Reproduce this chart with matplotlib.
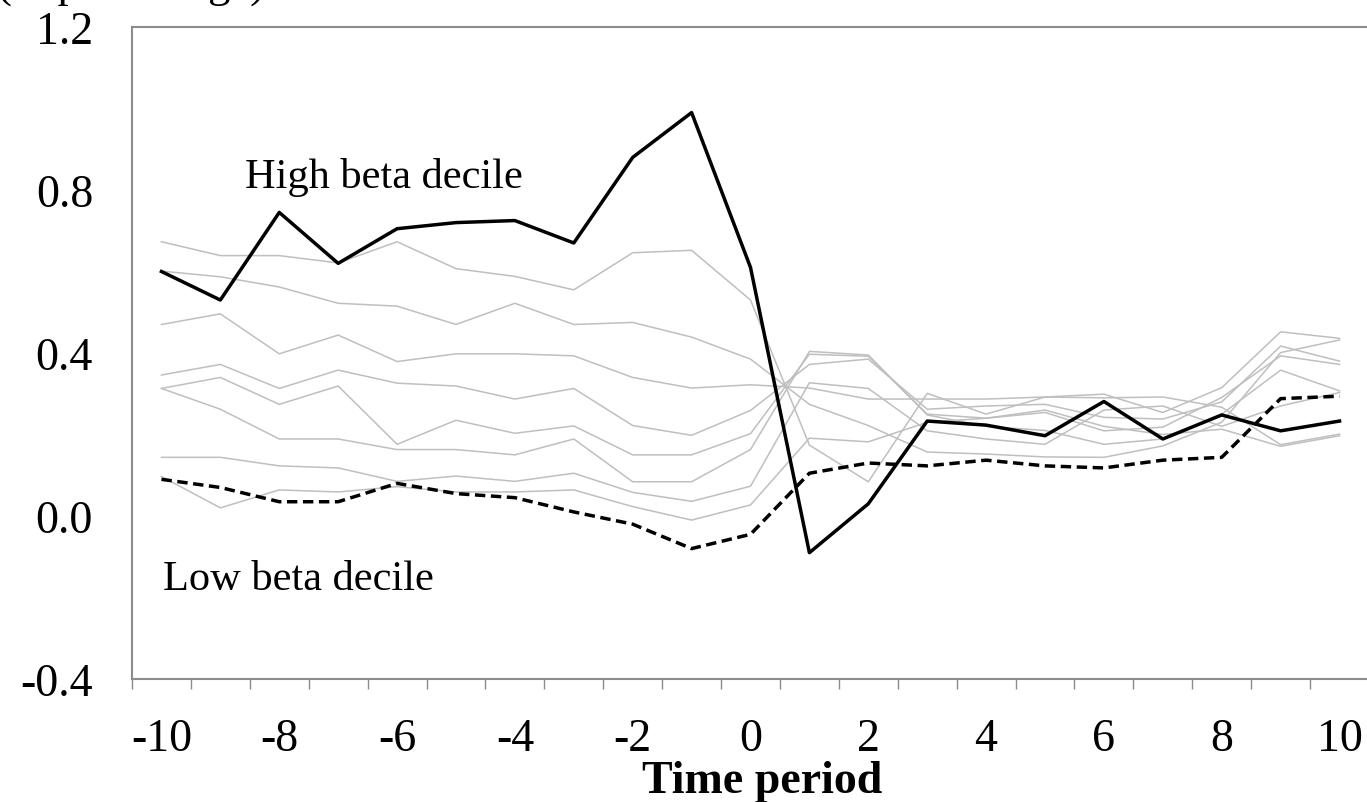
import matplotlib
matplotlib.use("Agg")
import matplotlib.pyplot as plt
from matplotlib.ticker import FixedLocator, NullFormatter

plt.rcParams['font.family'] = ['Liberation Serif', 'DejaVu Serif']

# event time
periods = list(range(-10, 11))

# top and bottom beta deciles (percent)
high_beta = [0.60, 0.53, 0.745, 0.62, 0.705, 0.72, 0.725, 0.67, 0.88, 0.99, 0.61,
             -0.09, 0.03, 0.233, 0.223, 0.197, 0.281, 0.189, 0.248, 0.209, 0.233]
low_beta = [0.09, 0.07, 0.035, 0.035, 0.08, 0.055, 0.045, 0.01, -0.02, -0.08, -0.045,
            0.105, 0.13, 0.123, 0.137, 0.123, 0.118, 0.137, 0.144, 0.288, 0.294]

# deciles 2-9 (grey)
dec_a = [0.673, 0.639, 0.639, 0.621, 0.673, 0.607, 0.588, 0.555, 0.646, 0.652, 0.530,
         0.174, 0.084, 0.301, 0.250, 0.292, 0.299, 0.254, 0.315, 0.452, 0.436]
dec_b = [0.601, 0.587, 0.562, 0.522, 0.515, 0.470, 0.522, 0.470, 0.475, 0.439, 0.385,
         0.274, 0.222, 0.157, 0.152, 0.145, 0.144, 0.172, 0.230, 0.401, 0.432]
dec_c = [0.470, 0.496, 0.398, 0.444, 0.379, 0.398, 0.398, 0.393, 0.340, 0.314, 0.322,
         0.314, 0.287, 0.287, 0.287, 0.292, 0.290, 0.292, 0.267, 0.175, 0.201]
dec_d = [0.346, 0.372, 0.313, 0.358, 0.326, 0.319, 0.287, 0.313, 0.222, 0.198, 0.259,
         0.372, 0.385, 0.262, 0.270, 0.274, 0.242, 0.238, 0.280, 0.417, 0.380]
dec_e = [0.313, 0.340, 0.274, 0.319, 0.176, 0.235, 0.203, 0.221, 0.150, 0.150, 0.202,
         0.397, 0.392, 0.250, 0.240, 0.254, 0.209, 0.218, 0.291, 0.393, 0.372]
dec_f = [0.313, 0.262, 0.189, 0.189, 0.163, 0.163, 0.150, 0.189, 0.084, 0.084, 0.163,
         0.404, 0.395, 0.248, 0.220, 0.210, 0.176, 0.189, 0.250, 0.358, 0.307]
dec_g = [0.144, 0.144, 0.123, 0.118, 0.085, 0.098, 0.085, 0.105, 0.058, 0.036, 0.073,
         0.327, 0.313, 0.209, 0.189, 0.176, 0.260, 0.270, 0.220, 0.270, 0.303]
dec_h = [0.097, 0.020, 0.064, 0.059, 0.072, 0.059, 0.059, 0.064, 0.023, -0.010, 0.027,
         0.191, 0.182, 0.230, 0.240, 0.260, 0.220, 0.200, 0.213, 0.171, 0.197]
middle = [dec_a, dec_b, dec_c, dec_d, dec_e, dec_f, dec_g, dec_h]

y_ticks = [-0.4, 0.0, 0.4, 0.8, 1.2]
x_labels = list(range(-10, 11, 2))

fig = plt.figure(figsize=(13.67, 8.03), dpi=100)
ax = fig.add_axes([132 / 1367, 1 - 680 / 803, 1237 / 1367, 652 / 803])

for s in middle:
    ax.plot(periods, s, color="#bfbfbf", lw=1.1)
ax.plot(periods, low_beta, color="black", lw=2.5, linestyle=(0, (3, 1.6)))
ax.plot(periods, high_beta, color="black", lw=2.5)

ax.set_xlim(-10.5, 10.5)
ax.set_ylim(-0.4, 1.2)

# category-style axis: tick marks between periods, labels on even periods
ax.xaxis.set_major_locator(FixedLocator([p - 0.5 for p in periods] + [10.5]))
ax.xaxis.set_major_formatter(NullFormatter())
ax.xaxis.set_minor_locator(FixedLocator(x_labels))
ax.set_xticklabels([str(v) for v in x_labels], minor=True)
ax.tick_params(axis="x", which="major", direction="out", length=7, width=1, color="#8c8c8c")
ax.tick_params(axis="x", which="minor", length=0, pad=28, labelsize=33)

ax.set_yticks(y_ticks)
ax.set_yticklabels(["%.1f" % v for v in y_ticks])
ax.tick_params(axis="y", length=0, pad=28, labelsize=33)

for side in ["left", "bottom", "top", "right"]:
    ax.spines[side].set_color("#8c8c8c")
    ax.spines[side].set_linewidth(1.5)

ax.text(-8.59, 0.808, "High beta decile", fontsize=30.5, ha="left", va="baseline")
ax.text(-9.98, -0.179, "Low beta decile", fontsize=30.5, ha="left", va="baseline")

fig.text(762 / 1367, 1 - 793 / 803, "Time period", fontsize=33, fontweight="bold",
         ha="center", va="baseline")
fig.text(-3 / 1367, 1 + 2 / 803, "(in percentage)", fontsize=32, ha="left", va="baseline")

fig.savefig("out.png", dpi=100)
